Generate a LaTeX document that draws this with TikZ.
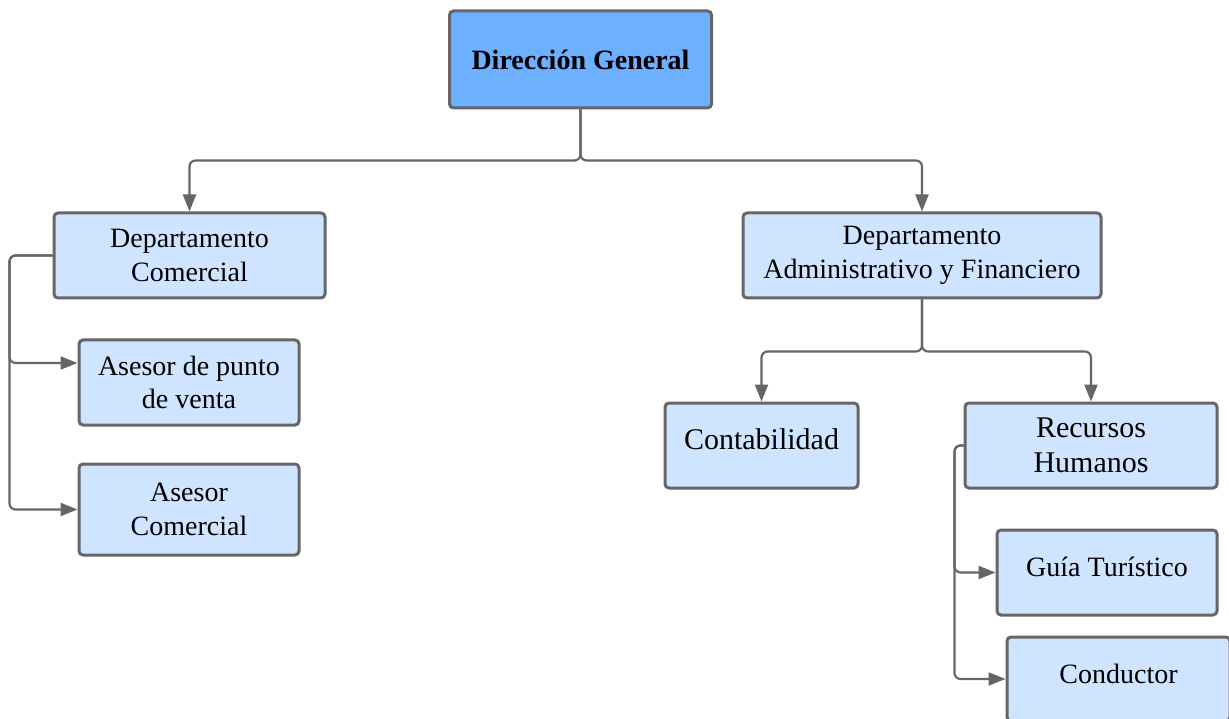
\documentclass[tikz,border=0pt]{standalone}
\usepackage{fontspec}
\setmainfont{Liberation Serif}
\usetikzlibrary{arrows.meta}
\definecolor{boxline}{HTML}{666666}
\definecolor{boxfill}{HTML}{CFE4FF}
\definecolor{topfill}{HTML}{6DB0FF}
\begin{document}
\begin{tikzpicture}[x=1pt,y=-1pt]
        \tikzstyle{box}=[draw=boxline, line width=3pt, fill=boxfill, rounded corners=4pt, align=center, inner sep=0pt, minimum height=85pt, font=\fontsize{28}{33.6}\selectfont]
        \tikzstyle{big}=[font=\fontsize{30}{35}\selectfont]
        \tikzstyle{conn}=[draw=boxline, line width=2.2pt, rounded corners=6pt, -{Triangle[length=17pt,width=13pt]}]
        \useasboundingbox (0,0) rectangle (1229,719);
        % boxes
        \node (dg) [box, fill=topfill, minimum width=262pt, minimum height=97pt, font=\bfseries\fontsize{28}{33.6}\selectfont] at (580.5,59.5) {Dirección General};
        \node (dc) [box, minimum width=271pt] at (189.5,255.5) {Departamento\\Comercial};
        \node (apv) [box, minimum width=220pt] at (189,382.5) {Asesor de punto\\de venta};
        \node (ac) [box, minimum width=220pt, minimum height=91pt] at (189,509.5) {Asesor\\Comercial};
        \node (daf) [box, minimum width=358pt] at (922,255.5) {Departamento\\Administrativo y Financiero};
        \node (cont) [box, big, minimum width=193pt, text depth=12pt] at (761.5,445.5) {Contabilidad};
        \node (rh) [box, big, minimum width=252pt] at (1091,445.5) {Recursos\\Humanos};
        \node (gt) [box, minimum width=220pt, text depth=12pt] at (1107,572.5) {Guía Turístico};
        \node (cond) [box, minimum width=223pt, minimum height=84pt, text depth=10pt] at (1118.5,679) {Conductor};
        % connectors
        \draw[conn] (dg.south) -- ++(0,51) -| (dc.north);
        \draw[conn] (dg.south) -- ++(0,51) -| (daf.north);
        \draw[conn] (dc.west) -- ++(-43,0) |- ([yshift=19.5pt]apv.west);
        \draw[conn] (dc.west) -- ++(-43,0) |- (ac.west);
        \draw[conn] (daf.south) -- ++(0,52) -| (cont.north);
        \draw[conn] (daf.south) -- ++(0,52) -| (rh.north);
        \draw[conn] (rh.west) -- ++(-9,0) |- (gt.west);
        \draw[conn] (rh.west) -- ++(-9,0) |- (cond.west);
\end{tikzpicture}
\end{document}
